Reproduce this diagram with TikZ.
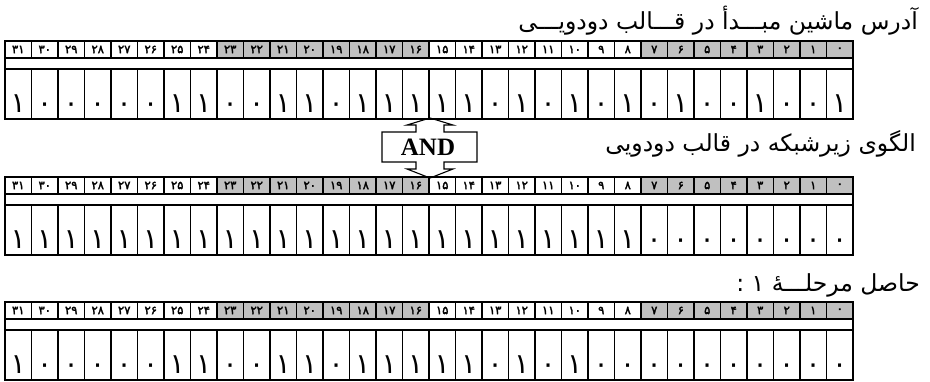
\documentclass[tikz,border=0pt]{standalone}
\usepackage{fontspec}
\usetikzlibrary{positioning}
\TeXXeTstate=1
\newfontfamily\farsi[Script=Arabic]{DejaVu Sans}
\newfontfamily\farsibold[Script=Arabic,FakeBold=2.5]{DejaVu Sans}
\newfontfamily\andfont{Liberation Serif}
\definecolor{bitgray}{HTML}{C0C0C0}

% persian digit 0..9
\newcommand{\fadig}[1]{\ifcase#1 ۰\or ۱\or ۲\or ۳\or ۴\or ۵\or ۶\or ۷\or ۸\or ۹\fi}

% one 32-bit table: name, top y, bits 31..0
\newcommand{\bitrow}[3]{%
  \foreach \b [count=\i from 0] in {#3} {
    \pgfmathtruncatemacro\bitno{31-\i}
    \pgfmathtruncatemacro\tens{\bitno/10}
    \pgfmathtruncatemacro\ones{\bitno-10*\tens}
    \pgfmathtruncatemacro\shade{or(\bitno<8,and(\bitno>15,\bitno<24))}
    \ifnum\shade=1 \def\cellfill{bitgray}\else\def\cellfill{white}\fi
    \node[hdrcell,fill=\cellfill] (h#1-\bitno) at (5+26.5*\i,#2)
      {\ifnum\tens>0 \fadig\tens\fi\fadig\ones};
    \node[bitcell] (d#1-\bitno) at (5+26.5*\i,#2+28) {\fadig\b};
  }
  \node[gapcell] (g#1) at (5,#2+17) {};
  \draw[frame] (h#1-31.north west) rectangle (d#1-0.south east);
}

\begin{document}
\begin{tikzpicture}[
  x=1pt,y=-1pt,
  hdrcell/.style={draw,line width=1.1pt,anchor=north west,inner sep=0pt,outer sep=0pt,
                  minimum width=26.5pt,minimum height=17pt,
                  font=\farsibold\fontsize{11.5}{12}\selectfont},
  bitcell/.style={draw,line width=1.1pt,anchor=north west,inner sep=0pt,outer sep=0pt,
                  minimum width=26.5pt,minimum height=50pt,text height=43pt,text depth=7pt,
                  font=\farsi\fontsize{28}{28}\selectfont},
  gapcell/.style={draw,line width=1.1pt,anchor=north west,inner sep=0pt,outer sep=0pt,
                  minimum width=848pt,minimum height=11pt},
  frame/.style={line width=1.5pt},
  title/.style={anchor=base east,inner sep=0pt,font=\farsi\fontsize{23.5}{24}\selectfont},
  andbox/.style={inner sep=0pt,font=\andfont\bfseries\fontsize{25}{25}\selectfont},
  callout/.style={line width=1.1pt,line join=miter}
]
\useasboundingbox (0,0) rectangle (930,381);

\node[title] (addrtitle) at (918,29) {\beginR آدرس ماشین مبـــدأ در قـــالب دودویـــی\endR};
\bitrow{1}{41}{1,0,0,0,0,0,1,1,0,0,1,1,0,1,1,1,1,1,0,1,0,1,0,1,0,1,0,0,1,0,0,1}

\node[title] (masktitle) at (916,151) {\beginR الگوی زیرشبکه در قالب دودویی\endR};
\bitrow{2}{177}{1,1,1,1,1,1,1,1,1,1,1,1,1,1,1,1,1,1,1,1,1,1,1,1,0,0,0,0,0,0,0,0}

\node[title] (restitle) at (920,291) {\beginR حاصل مرحلـــهٔ ۱ :\endR};
\bitrow{3}{302}{1,0,0,0,0,0,1,1,0,0,1,1,0,1,1,1,1,1,0,1,0,1,0,0,0,0,0,0,0,0,0,0}

% up-down callout
\draw[callout] (430,118) -- (453,125) -- (444,125) -- (444,132) -- (477,132)
  -- (477,162) -- (444,162) -- (444,169) -- (453,169) -- (430,178)
  -- (407,169) -- (416,169) -- (416,162) -- (382,162) -- (382,132)
  -- (416,132) -- (416,125) -- (407,125) -- cycle;
\node[andbox] (and) at (428,147) {AND};
\end{tikzpicture}
\end{document}
